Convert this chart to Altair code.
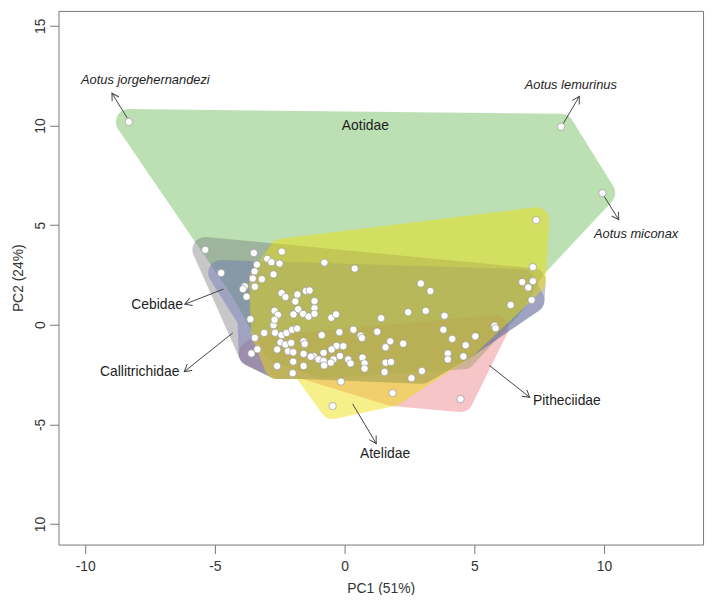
import math
import altair as alt
import pandas as pd

# ---------------- axes ----------------
X_MIN, X_MAX = -11.03, 13.82
Y_MIN, Y_MAX = -11.03, 15.75
W, H = 651, 539

x_ticks = [-10, -5, 0, 5, 10]
x_tick_labels = ["-10", "-5", "0", "5", "10"]
y_ticks = [15, 10, 5, 0, -5, -10]
y_tick_labels = ["15", "10", "5", "0", "-5", "10"]

# ---------------- specimens (PC1, PC2) ----------------
pc1 = [-8.32, 8.35, 9.94,
       -5.37, -4.76, -3.50, -2.42, -3.38, -2.98, -2.82, -2.51, -3.47, -3.54, -3.19, -2.74,
       -3.85, -3.92, -3.46, -3.78, -2.43, -2.28, -1.90, -1.82, -1.49, -1.35, -1.16, -0.78,
       0.39, 2.94, 3.31, 7.39, 7.26, 6.85, 7.26, 7.08, 7.21, 6.40,
       -2.70, -2.57, -2.74, -2.70, -3.63, -1.79, -1.60, -1.39, -1.16, -1.16, -0.51, -0.33,
       -2.68, -3.10, -3.46, -2.43, -2.24, -2.02, -1.83, -1.97, -0.88, -0.20, 0.34, 0.62,
       0.67, 1.26, 1.41, 2.45, 3.13, 3.85, 3.81, 4.15, 4.67, 5.04, 5.78, 5.82, 1.76, 1.58, 2.26,
       -2.47, -2.28, -2.06, -1.58, -1.54, -0.31, -0.05, -0.50,
       -3.36, -3.59, -2.60, -2.18, -1.98, -1.58, -1.19, -1.00, -0.81, -0.81, -0.43, -0.18,
       0.14, 0.23, 0.69, 0.77, 0.77, -2.60, -2.00, -1.58, -1.30, -0.53, -0.79, -0.14, -0.46,
       1.58, 1.79, 1.54, 2.98, 2.58, 1.85, 3.98, 3.98, 4.58, 4.47, -1.98]
pc2 = [10.18, 9.94, 6.61,
       3.76, 2.60, 3.60, 3.67, 3.02, 3.31, 3.14, 3.07, 2.68, 2.32, 2.29, 2.53,
       1.92, 1.79, 1.91, 1.41, 1.59, 1.39, 1.17, 1.52, 1.70, 1.72, 1.19, 3.12,
       2.82, 2.07, 1.69, 5.25, 2.89, 2.14, 2.19, 1.87, 1.24, 0.99,
       0.70, 0.50, -0.02, 0.25, 0.28, 0.78, 0.55, 0.41, 0.83, 0.55, 0.35, 0.52,
       -0.40, -0.41, -0.66, -0.52, -0.41, -0.25, -0.19, 0.52, -0.52, -0.37, -0.25, -0.55,
       -0.67, -0.35, 0.33, 0.63, 0.70, 0.45, -0.25, -0.71, -1.03, -0.58, -0.05, -0.17, -0.83, -1.13, -0.95,
       -0.88, -0.99, -0.91, -0.83, -0.96, -1.06, -1.08, -1.24,
       -1.23, -1.44, -1.24, -1.33, -1.38, -1.46, -1.57, -1.74, -1.82, -1.41, -1.74, -1.57,
       -1.74, -1.94, -1.65, -1.94, -2.20, -2.07, -2.43, -2.07, -1.60, -1.90, -2.04, -2.85, -4.08,
       -1.90, -1.87, -2.37, -2.32, -2.68, -3.43, -1.44, -1.74, -1.59, -3.73, -1.85]

# ---------------- family hull outlines (specimens on each hull) ----------------
hull_order = ["Aotidae", "Pitheciidae", "Callitrichidae", "Cebidae", "Atelidae"]
hull_colors = {"Aotidae": "#5ab244", "Callitrichidae": "#74747d", "Cebidae": "#6470b4",
               "Pitheciidae": "#e87076", "Atelidae": "#eede01"}
hull_alpha = {"Aotidae": 0.4, "Callitrichidae": 0.4, "Cebidae": 0.4,
              "Pitheciidae": 0.4, "Atelidae": 0.46}
hull_x = {
    "Aotidae": [-8.32, 8.35, 9.94, 7.26, 6.40, 4.58, -0.79, -2.60, -3.92],
    "Callitrichidae": [-5.37, 7.26, 7.21, 4.67, 2.98, -1.58, -2.60, -3.59],
    "Cebidae": [-4.76, 6.85, 7.21, 4.67, 2.98, -1.58, -2.60, -3.59, -3.63],
    "Pitheciidae": [-3.36, 5.82, 4.47, 1.85, -1.58, -2.60, -3.59],
    "Atelidae": [-2.42, 7.39, 7.26, 4.67, 1.85, -0.46, -1.58, -2.60, -3.10, -3.19],
}
hull_y = {
    "Aotidae": [10.18, 9.94, 6.61, 2.89, 0.99, -1.59, -2.04, -1.24, 1.79],
    "Callitrichidae": [3.76, 2.19, 1.24, -1.03, -2.32, -2.07, -2.07, -1.44],
    "Cebidae": [2.60, 2.14, 1.24, -1.03, -2.32, -2.07, -2.07, -1.44, 0.28],
    "Pitheciidae": [-1.23, -0.17, -3.73, -3.43, -2.07, -2.07, -1.44],
    "Atelidae": [3.67, 5.25, 2.19, -1.03, -3.43, -4.08, -2.07, -2.07, -0.41, 2.29],
}

# ---------------- labels ----------------
fam_text = ["Aotidae", "Cebidae", "Callitrichidae", "Atelidae", "Pitheciidae"]
fam_x = [0.80, -7.23, -7.90, 1.56, 8.57]
fam_y = [9.77, 0.78, -2.57, -6.67, -4.01]

sp_text = ["Aotus jorgehernandezi", "Aotus lemurinus", "Aotus miconax"]
sp_x = [-7.68, 8.72, 11.24]
sp_y = [12.09, 11.81, 4.34]

# arrows: start -> end
arr_x1 = [-8.38, 8.41, 10.00, -4.67, -4.31, 0.31, 5.58]
arr_y1 = [10.38, 10.05, 6.46, 1.79, -0.41, -3.97, -2.04]
arr_x2 = [-8.97, 9.05, 10.57, -6.16, -6.18, 1.22, 7.14]
arr_y2 = [11.62, 11.46, 5.27, 1.03, -2.35, -5.96, -3.64]

# ---------------- build chart ----------------
FONT = "Liberation Sans"
TXT = "#222222"

def label_expr(vals, labs):
    parts = [f"datum.value == {v} ? '{l}'" for v, l in zip(vals, labs)]
    return " : ".join(parts) + " : ''"

xscale = alt.Scale(domain=[X_MIN, X_MAX], nice=False, zero=False)
yscale = alt.Scale(domain=[Y_MIN, Y_MAX], nice=False, zero=False)

xaxis = alt.Axis(values=x_ticks, labelExpr=label_expr(x_ticks, x_tick_labels), grid=False,
                 domain=False, ticks=True, tickColor="#777777", tickSize=9, tickWidth=1,
                 labelFont=FONT, labelFontSize=14, labelColor="#333333", labelPadding=17,
                 labelBaseline="alphabetic", labelAlign="center", labelFlush=False,
                 labelOverlap=False, title="PC1 (51%)", titleFont=FONT, titleFontSize=14,
                 titleFontWeight="normal", titleColor="#333333", titleX=W / 2, titleY=48,
                 titleBaseline="alphabetic", titleAlign="center")
yaxis = alt.Axis(values=y_ticks, labelExpr=label_expr(y_ticks, y_tick_labels), grid=False,
                 domain=False, ticks=True, tickColor="#777777", tickSize=9, tickWidth=1,
                 labelFont=FONT, labelFontSize=14, labelColor="#333333", labelPadding=5,
                 labelAngle=270, labelBaseline="alphabetic", labelAlign="center",
                 labelFlush=False, labelOverlap=False, title="PC2 (24%)", titleFont=FONT,
                 titleFontSize=14, titleFontWeight="normal", titleColor="#333333",
                 titleAngle=270, titleX=-36, titleY=H / 2, titleBaseline="alphabetic",
                 titleAlign="center")

def X(f="x"):
    return alt.X(f"{f}:Q", scale=xscale, axis=xaxis)

def Y(f="y"):
    return alt.Y(f"{f}:Q", scale=yscale, axis=yaxis)

layers = []
for fam in hull_order:
    df = pd.DataFrame({"x": hull_x[fam], "y": hull_y[fam],
                       "idx": list(range(len(hull_x[fam])))})
    c = hull_colors[fam]
    layers.append(
        alt.Chart(df).mark_line(interpolate="linear-closed", fill=c, stroke=c,
                                strokeWidth=26, strokeJoin="round",
                                opacity=hull_alpha[fam])
        .encode(x=X(), y=Y(), order=alt.Order("idx:Q"))
    )

kx = W / (X_MAX - X_MIN)
ky = H / (Y_MAX - Y_MIN)
angles = []
for a, b, c2, d in zip(arr_x1, arr_y1, arr_x2, arr_y2):
    ang = math.degrees(math.atan2(-(d - b) * ky, (c2 - a) * kx)) % 360
    angles.append(ang)
arr_df = pd.DataFrame({"x": arr_x1, "y": arr_y1, "x2": arr_x2, "y2": arr_y2, "angle": angles})

layers.append(
    alt.Chart(arr_df).mark_rule(color="#444444", strokeWidth=1)
    .encode(x=X(), y=Y(), x2="x2:Q", y2="y2:Q")
)
layers.append(
    alt.Chart(arr_df).mark_point(shape="M-1,-0.577L0,0L-1,0.577", size=196, filled=False,
                                 stroke="#444444", strokeWidth=1, opacity=1)
    .encode(x=X("x2"), y=Y("y2"), angle=alt.Angle("angle:Q", scale=None))
)

pts = pd.DataFrame({"x": pc1, "y": pc2})
layers.append(
    alt.Chart(pts).mark_circle(size=55, color="white", stroke="#8a8a8a", strokeWidth=0.6,
                               opacity=1)
    .encode(x=X(), y=Y())
)

fam_df = pd.DataFrame({"x": fam_x, "y": fam_y, "t": fam_text})
layers.append(
    alt.Chart(fam_df).mark_text(font=FONT, fontSize=14, color=TXT, align="center",
                                baseline="alphabetic")
    .encode(x=X(), y=Y(), text="t:N")
)
sp_df = pd.DataFrame({"x": sp_x, "y": sp_y, "t": sp_text})
layers.append(
    alt.Chart(sp_df).mark_text(font=FONT, fontSize=13, fontStyle="italic", color=TXT,
                               align="center", baseline="alphabetic")
    .encode(x=X(), y=Y(), text="t:N")
)

chart = alt.layer(*layers).properties(
    width=W, height=H,
    autosize=alt.AutoSizeParams(type="none"),
    padding={"left": 51, "top": 0, "right": 4, "bottom": 48},
).configure_view(stroke="#777777", strokeWidth=1)

chart.save("out.html", embed_options={"renderer": "svg", "actions": False})
